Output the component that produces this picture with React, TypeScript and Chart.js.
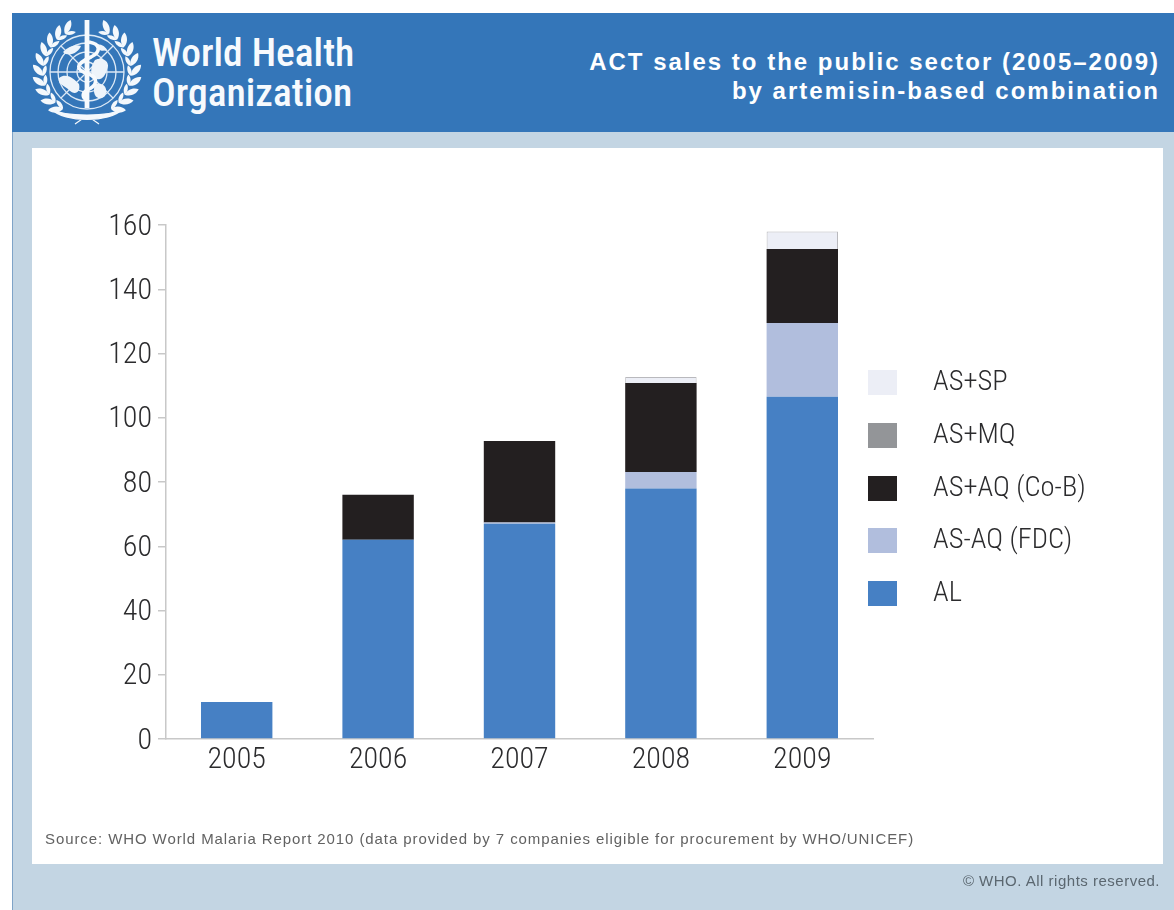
import React, { useEffect, useRef } from "react";
import { Chart, registerables } from "chart.js";

Chart.register(...registerables);

const years = ["2005", "2006", "2007", "2008", "2009"];

const alSales = [11.5, 62, 67, 78, 106.5];
const fdcSales = [0, 0, 0.4, 5.1, 23];
const coBlisterSales = [0, 14, 25.4, 27.7, 23];
const mqSales = [0, 0, 0, 0, 0];
const spSales = [null, null, null, 1.9, 5.5];

const yTicks = [0, 20, 40, 60, 80, 100, 120, 140, 160];

const AL_COLOR = "#4680c4";
const FDC_COLOR = "#b1bedd";
const COB_COLOR = "#231f20";
const MQ_COLOR = "#939598";
const SP_COLOR = "#eceef6";

// Top-to-bottom order of the key
const legendEntries = [
  { label: "AS+SP", color: SP_COLOR },
  { label: "AS+MQ", color: MQ_COLOR },
  { label: "AS+AQ (Co-B)", color: COB_COLOR },
  { label: "AS-AQ (FDC)", color: FDC_COLOR },
  { label: "AL", color: AL_COLOR },
];

const CONDENSED = '"Roboto Condensed", Roboto, sans-serif';
const ARIAL = '"Liberation Sans", Arial, sans-serif';
const TEXT_COLOR = "#2b2b2d";
const AXIS_COLOR = "#c8c8c8";

const PAGE_W = 1174;
const PAGE_H = 910;

// One side of the wreath; the other side is its mirror image
function wreathLeaves() {
  const leaves = [];
  for (let i = 0; i < 10; i++) {
    const deg = -60 + i * 13;
    const a = (deg * Math.PI) / 180;
    const x = 44 * Math.cos(a);
    const y = 44 * Math.sin(a);
    leaves.push(
      <g key={i} transform={`translate(${x} ${y})`}>
        <path
          transform={`rotate(${deg + 38})`}
          d="M0 0 C 4 -4 4 -11 0 -15 C -4 -11 -4 -4 0 0 Z"
          fill="#f4f8fc"
        />
        <path
          transform={`rotate(${deg - 20})`}
          d="M0 0 C 2.6 -3 2.6 -8 0 -11 C -2.6 -8 -2.6 -3 0 0 Z"
          fill="#f4f8fc"
        />
      </g>
    );
  }
  return leaves;
}

function Emblem() {
  const latitudes = [10, 20, 29, 37];
  return (
    <svg
      width={125}
      height={115}
      viewBox="-62 -57 125 115"
      style={{ position: "absolute", left: 25, top: 15 }}
    >
      <g fill="none" stroke="#dce9f6" strokeWidth={1.3}>
        {latitudes.map((r) => (
          <circle key={r} cx={0} cy={0} r={r} />
        ))}
        <path d="M-37 0 H37" />
        <path d="M-26 -26 L26 26 M-26 26 L26 -26" />
      </g>
      <path
        d="M-28 6 C-20 0 -12 8 -8 12 C-6 20 -12 24 -18 18 C-22 14 -30 12 -28 6 Z M8 -12 C16 -16 24 -10 20 -2 C18 4 14 10 8 6 C2 2 4 -6 8 -12 Z M8 12 C16 10 22 16 18 24 C12 30 4 24 8 12 Z M-24 -20 C-18 -26 -12 -28 -6 -26 C-8 -20 -18 -14 -24 -20 Z M8 -28 C14 -28 18 -26 20 -22 C14 -20 10 -22 8 -28 Z"
        fill="#eef4fa"
      />
      <rect x={-2.4} y={-52} width={4.8} height={88} fill="#f7fafd" />
      <path
        d="M2 -30 C14 -28 14 -20 4 -15 C-12 -8 -12 -2 2 2 C12 6 10 14 0 18 C-6 22 -4 26 0 28"
        fill="none"
        stroke="#f7fafd"
        strokeWidth={3.6}
      />
      <g>{wreathLeaves()}</g>
      <g transform="scale(-1 1)">{wreathLeaves()}</g>
      <path
        d="M-36 37 C-22 45 22 45 36 37 C22 51 -22 51 -36 37 Z M-12 52 L-2 45 M12 52 L2 45"
        fill="#f4f8fc"
        stroke="#f4f8fc"
        strokeWidth={1.2}
      />
    </svg>
  );
}

export default function App() {
  const canvasRef = useRef<HTMLCanvasElement | null>(null);

  useEffect(() => {
    const canvas = canvasRef.current;
    if (!canvas) return;
    const chart = new Chart(canvas, {
      type: "bar",
      data: {
        labels: years,
        datasets: [
          { label: "AL", data: alSales, backgroundColor: AL_COLOR },
          { label: "AS-AQ (FDC)", data: fdcSales, backgroundColor: FDC_COLOR },
          { label: "AS+AQ (Co-B)", data: coBlisterSales, backgroundColor: COB_COLOR },
          { label: "AS+MQ", data: mqSales, backgroundColor: MQ_COLOR },
          {
            label: "AS+SP",
            data: spSales,
            backgroundColor: SP_COLOR,
            borderColor: "#b9b9bd",
            borderWidth: 1,
            borderSkipped: "bottom",
          },
        ],
      },
      options: {
        responsive: false,
        animation: false,
        layout: { padding: { top: 225, right: PAGE_W - 873, left: 0, bottom: 0 } },
        plugins: {
          legend: { display: false },
          title: { display: false },
          tooltip: { enabled: false },
        },
        datasets: { bar: { barPercentage: 0.505, categoryPercentage: 1 } },
        scales: {
          x: {
            stacked: true,
            border: { color: AXIS_COLOR, width: 1.5 },
            grid: { display: false, tickLength: 3 },
            ticks: {
              color: TEXT_COLOR,
              font: { family: CONDENSED, size: 30, weight: "300" },
              padding: 0,
              maxRotation: 0,
            },
            afterFit: (scale: any) => {
              scale.height = PAGE_H - 739;
            },
          },
          y: {
            stacked: true,
            min: 0,
            max: 160,
            border: { color: AXIS_COLOR, width: 1.5 },
            grid: {
              drawOnChartArea: false,
              drawTicks: true,
              tickLength: 8,
              color: AXIS_COLOR,
              lineWidth: 1.5,
            },
            afterBuildTicks: (scale: any) => {
              scale.ticks = yTicks.map((value) => ({ value }));
            },
            ticks: {
              color: TEXT_COLOR,
              font: { family: CONDENSED, size: 30, weight: "300" },
              padding: 6,
              labelOffset: 2,
            },
            afterFit: (scale: any) => {
              scale.width = 166;
            },
          },
        },
      },
    });
    return () => chart.destroy();
  }, []);

  return (
    <div
      style={{
        position: "absolute",
        left: 0,
        top: 0,
        width: PAGE_W,
        height: PAGE_H,
        overflow: "hidden",
        background: "#fff",
      }}
    >
      <div
        style={{
          position: "absolute",
          left: 12,
          top: 132,
          width: PAGE_W - 12,
          height: PAGE_H - 132,
          background: "#c3d5e3",
          borderLeft: "1px solid #7fa3c7",
          boxSizing: "border-box",
        }}
      />
      <div
        style={{
          position: "absolute",
          left: 12,
          top: 13,
          width: PAGE_W - 12,
          height: 119,
          background: "#3476b9",
        }}
      />
      <div
        style={{
          position: "absolute",
          left: 32,
          top: 148,
          width: 1131,
          height: 716,
          background: "#fff",
        }}
      />
      <Emblem />
      <div
        style={{
          position: "absolute",
          left: 152,
          top: 33,
          color: "#f7fafd",
          fontFamily: CONDENSED,
          fontWeight: 500,
          fontSize: 39.5,
          lineHeight: "40px",
          whiteSpace: "pre",
        }}
      >
        {"World Health\nOrganization"}
      </div>
      <div
        style={{
          position: "absolute",
          right: 14,
          top: 47,
          color: "#fff",
          fontFamily: ARIAL,
          fontWeight: 700,
          fontSize: 24,
          lineHeight: "29px",
          letterSpacing: 2,
          textAlign: "right",
          whiteSpace: "pre",
        }}
      >
        {"ACT sales to the public sector (2005–2009)\nby artemisin-based combination"}
      </div>
      <canvas
        ref={canvasRef}
        width={PAGE_W}
        height={PAGE_H}
        style={{ position: "absolute", left: 0, top: 0, display: "block" }}
      />
      {legendEntries.map((entry, i) => (
        <React.Fragment key={entry.label}>
          <div
            style={{
              position: "absolute",
              left: 868,
              top: 370 + i * 52.8,
              width: 29,
              height: 25,
              background: entry.color,
            }}
          />
          <div
            style={{
              position: "absolute",
              left: 933,
              top: 365 + i * 52.8,
              color: TEXT_COLOR,
              fontFamily: CONDENSED,
              fontWeight: 300,
              fontSize: 28.5,
              lineHeight: "32px",
              whiteSpace: "pre",
            }}
          >
            {entry.label}
          </div>
        </React.Fragment>
      ))}
      <div
        style={{
          position: "absolute",
          left: 45,
          top: 830,
          color: "#626262",
          fontFamily: ARIAL,
          fontSize: 15,
          lineHeight: "18px",
          letterSpacing: 0.91,
          whiteSpace: "pre",
        }}
      >
        Source: WHO World Malaria Report 2010 (data provided by 7 companies eligible for procurement by WHO/UNICEF)
      </div>
      <div
        style={{
          position: "absolute",
          right: 14,
          top: 872,
          color: "#5b6770",
          fontFamily: ARIAL,
          fontSize: 15,
          lineHeight: "18px",
          letterSpacing: 0.5,
          whiteSpace: "pre",
        }}
      >
        © WHO. All rights reserved.
      </div>
    </div>
  );
}
